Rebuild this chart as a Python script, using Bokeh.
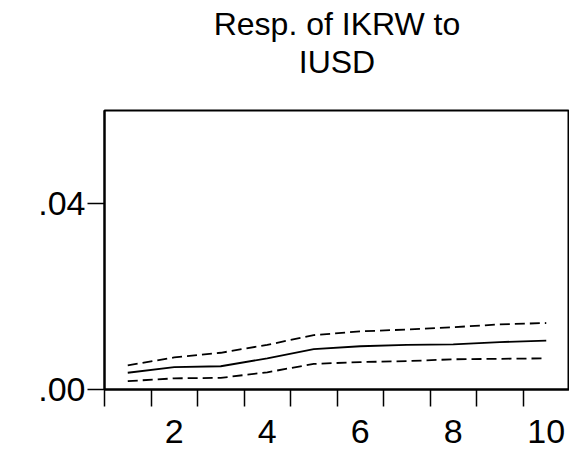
from bokeh.plotting import figure
from bokeh.models import Range1d, FixedTicker, Title
from bokeh.embed import file_html
from bokeh.resources import INLINE

# Impulse response of IKRW to a shock in IUSD, with +/- 2 S.E. bands
periods = [1, 2, 3, 4, 5, 6, 7, 8, 9, 10]
response = [0.0036, 0.0048, 0.0050, 0.0067, 0.0087, 0.0093, 0.0096, 0.0097, 0.0102, 0.0105]
upper_band = [0.0052, 0.0069, 0.0079, 0.0096, 0.0117, 0.0125, 0.0129, 0.0134, 0.0140, 0.0143]
lower_band = [0.0018, 0.0024, 0.0025, 0.0037, 0.0055, 0.0059, 0.0061, 0.0065, 0.0066, 0.0067]

x_tick_values = [2, 4, 6, 8, 10]
y_tick_values = [0.0, 0.04]
y_tick_labels = [".00", ".04"]
title_lines = ["Resp. of IKRW to", "IUSD"]

FONT = "Liberation Sans"

p = figure(
    width=569, height=451,
    output_backend="svg", toolbar_location=None,
    x_range=Range1d(0.5, 10.5), y_range=Range1d(0.0, 0.06),
    min_border_left=104, min_border_right=0,
    min_border_top=110, min_border_bottom=62,
    title=None,
)
p.background_fill_color = "white"
p.border_fill_color = "white"
p.outline_line_color = "black"
p.outline_line_width = 2
p.xgrid.visible = False
p.ygrid.visible = False

# heading panels stack outward from the frame: a blank gap first,
# then the second heading line, then the first
p.add_layout(Title(text=" ", text_font=FONT, text_font_size="1px", standoff=28), "above")
p.add_layout(Title(text=title_lines[1], align="center", text_font=FONT,
                   text_font_size="32px", text_font_style="normal",
                   text_color="black", standoff=0), "above")
p.add_layout(Title(text=title_lines[0], align="center", text_font=FONT,
                   text_font_size="32px", text_font_style="normal",
                   text_color="black", standoff=0), "above")

# bands and response
p.line(periods, upper_band, line_color="black", line_width=1.8, line_dash="10 5")
p.line(periods, lower_band, line_color="black", line_width=1.8, line_dash="10 5")
p.line(periods, response, line_color="black", line_width=1.8)

# x axis: tick marks on period boundaries, labels centred on periods
xa = p.xaxis[0]
xa.ticker = FixedTicker(ticks=x_tick_values, minor_ticks=[t - 0.5 for t in periods])
xa.major_tick_out = 0
xa.major_tick_in = 0
xa.minor_tick_out = 17
xa.minor_tick_in = 0
xa.minor_tick_line_color = "black"
xa.minor_tick_line_width = 1.5
xa.axis_line_color = "black"
xa.axis_line_width = 2
xa.major_label_text_font = FONT
xa.major_label_text_font_size = "34px"
xa.major_label_text_color = "black"
xa.major_label_standoff = 13

ya = p.yaxis[0]
ya.ticker = FixedTicker(ticks=y_tick_values, minor_ticks=[])
ya.major_label_overrides = dict(zip(y_tick_values, y_tick_labels))
ya.major_tick_out = 17
ya.major_tick_in = 0
ya.major_tick_line_color = "black"
ya.major_tick_line_width = 1.5
ya.minor_tick_out = 0
ya.minor_tick_in = 0
ya.axis_line_color = "black"
ya.axis_line_width = 2
ya.major_label_text_font = FONT
ya.major_label_text_font_size = "34px"
ya.major_label_text_color = "black"
ya.major_label_standoff = 2

open("out.html", "w").write(file_html(p, INLINE))
